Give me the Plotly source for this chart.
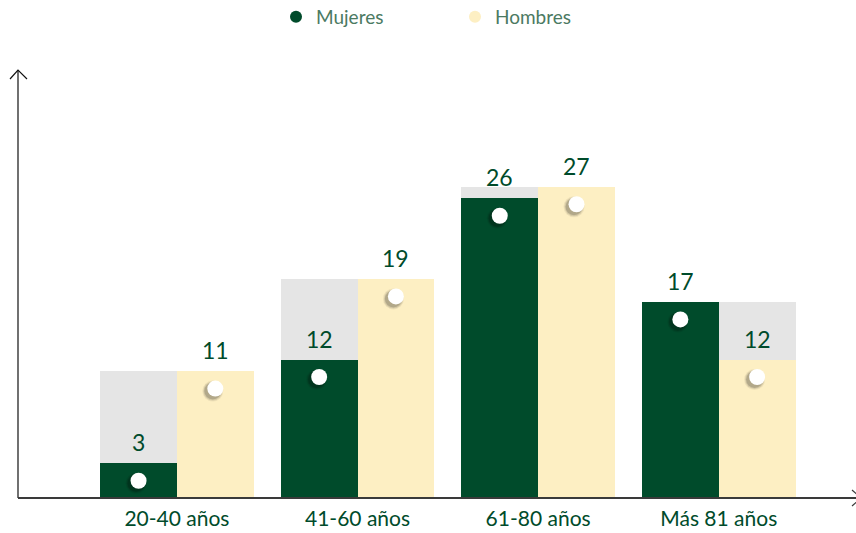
import plotly.graph_objects as go

# data
grupos = ["20-40 años", "41-60 años", "61-80 años", "Más 81 años"]
mujeres = [3, 12, 26, 17]
hombres = [11, 19, 27, 12]

VERDE = "#004b2b"
CREMA = "#fdefc3"
GRIS = "#e5e5e5"
FUENTE = "Lato"

W, H = 856, 533
L, R, T, B = 18, 0, 70, 35
pw, ph = W - L - R, H - T - B

def px(x, y):
    # pixel -> paper coords
    return (x - L) / pw, 1 - (y - T) / ph

ancho = 0.425
xs = list(range(len(grupos)))
maximo = [max(m, h) for m, h in zip(mujeres, hombres)]

fig = go.Figure()

# gray background = max of the group
fig.add_trace(go.Bar(x=xs, y=maximo, width=2 * ancho, offset=-ancho,
                     marker=dict(color=GRIS, line_width=0), showlegend=False,
                     hoverinfo="skip"))
fig.add_trace(go.Bar(x=xs, y=mujeres, width=ancho, offset=-ancho,
                     marker=dict(color=VERDE, line_width=0), showlegend=False,
                     name="Mujeres"))
fig.add_trace(go.Bar(x=xs, y=hombres, width=ancho, offset=0,
                     marker=dict(color=CREMA, line_width=0), showlegend=False,
                     name="Hombres"))

# white dots with a soft shadow
xm = [i - ancho / 2 for i in xs]
xh = [i + ancho / 2 for i in xs]
bajar = 1.5
for xx, vals in ((xm, mujeres), (xh, hombres)):
    yy = [v - bajar for v in vals]
    for s, a in ((21, 0.06), (19, 0.10), (17, 0.16)):
        fig.add_trace(go.Scatter(x=[x - 0.014 for x in xx], y=[y - 0.22 for y in yy],
                                 mode="markers", showlegend=False, hoverinfo="skip",
                                 marker=dict(size=s, color=f"rgba(0,0,0,{a})", line_width=0)))
    fig.add_trace(go.Scatter(x=xx, y=yy, mode="markers", showlegend=False,
                             hoverinfo="skip",
                             marker=dict(size=16, color="white", line_width=0)))

# legend entries as circles
fig.add_trace(go.Scatter(x=[None], y=[None], mode="markers", name="Mujeres",
                         marker=dict(size=12, color=VERDE)))
fig.add_trace(go.Scatter(x=[None], y=[None], mode="markers", name="Hombres",
                         marker=dict(size=12, color=CREMA)))

# value labels
for xx, vals in ((xm, mujeres), (xh, hombres)):
    for x, v in zip(xx, vals):
        fig.add_annotation(x=x, y=v, text=str(v), showarrow=False, yanchor="bottom",
                           yshift=5, font=dict(family=FUENTE, size=23, color=VERDE))

# axis lines with open arrow heads
x0, y0 = px(18, 498)
xt, yt = px(18, 70)
xa1, ya1 = px(10, 79)
xa2, ya2 = px(27, 79)
fig.add_shape(type="line", xref="paper", yref="paper", x0=x0, y0=y0, x1=xt, y1=yt,
              line=dict(color="#111", width=1.2))
fig.add_shape(type="path", xref="paper", yref="paper",
              path=f"M {xa1} {ya1} L {xt} {yt} L {xa2} {ya2}",
              line=dict(color="#111", width=1.2))
xr, yr = px(861, 498)
xb1, yb1 = px(852, 490)
xb2, yb2 = px(852, 506)
fig.add_shape(type="line", xref="paper", yref="paper", x0=x0, y0=y0, x1=xr, y1=yr,
              line=dict(color="#3a3a3a", width=2))
fig.add_shape(type="path", xref="paper", yref="paper",
              path=f"M {xb1} {yb1} L {xr} {yr} L {xb2} {yb2}",
              line=dict(color="#3a3a3a", width=1.2))

fig.update_layout(
    width=W, height=H,
    margin=dict(l=L, r=R, t=T, b=B, autoexpand=False),
    paper_bgcolor="white", plot_bgcolor="white",
    barmode="overlay", bargap=0,
    font=dict(family=FUENTE, color=VERDE),
    legend=dict(orientation="h", xref="container", x=455 / W, xanchor="center",
                yref="container", y=1 - 17 / H, yanchor="middle",
                font=dict(family=FUENTE, size=19, color="#4b7a62"),
                entrywidth=134, entrywidthmode="pixels", itemsizing="constant"),
    xaxis=dict(range=[-0.88, 3.76], tickvals=xs, ticktext=grupos, showgrid=False,
               zeroline=False, showline=False, ticks="", automargin=False,
               ticklabelstandoff=6,
               tickfont=dict(family=FUENTE, size=21, color=VERDE)),
    yaxis=dict(range=[0, 37.15], showgrid=False, zeroline=False, showline=False,
               showticklabels=False, ticks="", automargin=False),
)

# the page body has a default margin, drop it so the figure sits at 0,0
fig.write_html("out.html", config={"displayModeBar": False},
               post_script="document.body.style.margin='0px';")
